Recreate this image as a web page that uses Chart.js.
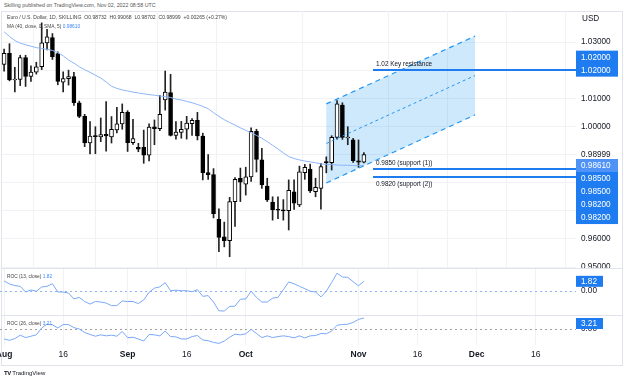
<!DOCTYPE html>
<html><head><meta charset="utf-8">
<script src="https://cdn.jsdelivr.net/npm/chart.js@4.4.1/dist/chart.umd.min.js"></script>
<style>
html,body{margin:0;padding:0;background:#fff;}
body{width:624px;height:381px;position:relative;overflow:hidden;font-family:"Liberation Sans",Arial,sans-serif;}
canvas{position:absolute;left:0;}
.t{position:absolute;white-space:nowrap;line-height:1;}
.sep{position:absolute;left:1px;width:621px;height:1px;background:#e0e3eb;}
</style></head><body>
<div class="t" style="left:4px;top:2.5px;font-size:5.3px;color:#555">Skilling published on TradingView.com, Nov 02, 2022 08:58 UTC</div>
<div style="position:absolute;left:1px;top:11px;width:622px;height:355px;box-sizing:border-box;border:1px solid #e0e3eb"></div>
<canvas id="cMain" width="624" height="257" style="top:11px"></canvas>
<canvas id="cRoc13" width="624" height="47" style="top:268px"></canvas>
<canvas id="cRoc26" width="624" height="51" style="top:315px"></canvas>
<div class="sep" style="top:268px"></div>
<div class="sep" style="top:315px"></div>
<div class="t" style="left:7px;top:15px;font-size:5.1px;color:#444">Euro / U.S. Dollar, 1D, SKILLING&nbsp; O0.98732&nbsp; H0.99068&nbsp; L0.98702&nbsp; C0.98999&nbsp; +0.00265 (+0.27%)</div>
<div class="t" style="left:7px;top:25px;font-size:4.8px;color:#444">MA (40, close, 0, SMA, 5) <span style="color:#3d86f5">0.98610</span></div>
<div class="t" style="left:7px;top:275px;font-size:4.8px;color:#444">ROC (13, close) <span style="color:#3d86f5">1.82</span></div>
<div class="t" style="left:7px;top:322px;font-size:4.8px;color:#444">ROC (26, close) <span style="color:#3d86f5">3.21</span></div>
<div class="t" style="left:4px;top:370px;font-size:6px;color:#131722"><b style="letter-spacing:-0.5px">TV</b> TradingView</div>
<script>
// ---- data (trading-day index 0 = Aug 1 2022) ----
const open  = [1.0220,1.0260,1.0165,1.0167,1.0245,1.0178,1.0193,1.0212,1.0297,1.0316,
               1.0259,1.0157,1.0170,1.0177,1.0084,1.0036,0.9941,0.9966,0.9963,0.9972,
               0.9963,0.9988,1.0009,1.0050,0.9942,0.9926,0.9926,0.9898,0.9999,0.9992,
               1.0094,1.0120,0.9968,0.9979,0.9990,1.0010,1.0022,0.9966,0.9836,0.9829,
               0.9670,0.9608,0.9594,0.9733,0.9816,0.9795,0.9821,0.9983,0.9881,0.9788,
               0.9731,0.9704,0.9702,0.9701,0.9768,0.9721,0.9836,0.9848,0.9768,0.9780,
               0.9875,0.9871,0.9961,1.0076,0.9959,0.9952,0.9878,0.98732];
const high  = [1.0275,1.0294,1.0210,1.0253,1.0253,1.0215,1.0228,1.0368,1.0345,1.0330,
               1.0265,1.0194,1.0200,1.0192,1.0090,1.0043,1.0017,0.9999,1.0030,1.0088,
               1.0035,1.0068,1.0080,1.0056,1.0025,0.9940,0.9987,1.0009,1.0023,1.0110,
               1.0197,1.0185,1.0017,1.0018,1.0036,1.0028,1.0050,0.9976,0.9900,0.9850,
               0.9707,0.9660,0.9748,0.9818,0.9852,0.9855,0.9995,0.9990,0.9922,0.9816,
               0.9750,0.9750,0.9740,0.9810,0.9810,0.9859,0.9865,0.9866,0.9816,0.9869,
               0.9892,0.9967,1.0092,1.0084,0.9999,0.9958,0.9952,0.99068];
const low   = [1.0196,1.0162,1.0123,1.0145,1.0142,1.0160,1.0186,1.0202,1.0272,1.0238,
               1.0148,1.0123,1.0147,1.0075,1.0031,0.9928,0.9902,0.9903,0.9946,0.9912,
               0.9941,0.9977,0.9990,0.9911,0.9936,0.9910,0.9869,0.9877,0.9935,0.9985,
               1.0058,0.9966,0.9955,0.9958,0.9955,0.9968,0.9952,0.9810,0.9812,0.9675,
               0.9555,0.9572,0.9537,0.9645,0.9733,0.9756,0.9805,0.9838,0.9780,0.9733,
               0.9667,0.9672,0.9667,0.9632,0.9705,0.9715,0.9812,0.9765,0.9750,0.9706,
               0.9835,0.9845,0.9955,0.9954,0.9935,0.9872,0.9855,0.98702];
const close = [1.0260,1.0165,1.0167,1.0245,1.0178,1.0193,1.0212,1.0297,1.0318,1.0248,
               1.0160,1.0170,1.0177,1.0084,1.0036,0.9941,0.9966,0.9964,0.9971,0.9966,
               0.9990,1.0009,1.0050,0.9942,0.9957,0.9919,0.9898,0.9998,0.9992,1.0043,
               1.0122,0.9968,0.9980,0.9990,1.0012,1.0022,0.9966,0.9836,0.9829,0.9690,
               0.9606,0.9594,0.9733,0.9812,0.9802,0.9821,0.9983,0.9883,0.9792,0.9739,
               0.9703,0.9702,0.9700,0.9773,0.9727,0.9839,0.9855,0.9771,0.9784,0.9857,
               0.9871,0.9961,1.0080,0.9961,0.9962,0.9878,0.9873,0.98999];
const ma40  = [1.0336,1.0320,1.0305,1.0296,1.0290,1.0285,1.0280,1.0277,1.0274,1.0270,
               1.0262,1.0251,1.0236,1.0225,1.0212,1.0202,1.0192,1.0182,1.0172,1.0158,
               1.0143,1.0135,1.0130,1.0126,1.0122,1.0119,1.0116,1.0113,1.0111,1.0108,
               1.0106,1.0103,1.0097,1.0094,1.0089,1.0084,1.0078,1.0071,1.0063,1.0049,
               1.0036,1.0024,1.0014,1.0005,0.9995,0.9986,0.9978,0.9968,0.9958,0.9946,
               0.9933,0.9920,0.9906,0.9893,0.9886,0.9881,0.9877,0.9874,0.9871,0.9867,
               0.9865,0.9864,0.9863,0.9862,0.9862,0.9861,0.9861,0.9861];
const roc13 = [1.9,1.3,1.0,0.85,-0.25,0.14,-0.1,0.72,0.85,1.36,
               -0.25,-0.25,-0.45,-1.6,-1.3,-2.1,-2.6,-2.1,-2.2,-2.4,
               -2.9,-2.9,-2.0,-2.1,-2.1,-2.5,-1.8,-0.3,0.5,0.75,
               1.55,0.0,0.1,0.0,0.0,-0.2,0.2,-1.1,-0.95,-2.2,
               -3.9,-3.95,-3.05,-3.0,-1.65,-1.6,-0.1,-1.3,-2.2,-2.2,
               -1.45,-1.3,0.2,1.7,1.35,0.85,0.4,-0.1,-0.25,-1.2,
               -0.1,1.6,3.4,2.65,2.6,1.75,0.95,1.82];
const roc26 = [-2.9,-3.3,-2.8,-1.8,-2.5,-2.1,-1.7,0.3,1.4,1.2,
               0.3,1.3,1.3,0.4,0.0,-1.0,-1.6,-2.1,-1.7,-2.0,
               -1.8,-2.1,-0.7,-2.5,-2.4,-2.9,-3.5,-1.6,-1.7,-2.0,
               -0.6,-2.2,-2.3,-2.9,-2.9,-2.2,-1.9,-3.2,-3.4,-3.9,
               -4.2,-3.5,-2.4,-1.5,-1.7,-1.4,-0.1,-1.3,-2.5,-2.0,
               -2.5,-2.2,-2.0,-2.2,-2.6,-2.0,-2.6,-2.0,-1.9,-1.3,
               -1.4,-0.6,1.1,1.3,1.4,1.9,2.8,3.21];
const xTickIdx    = [0, 11, 23, 34, 45, 66, 77, 88, 99];
const xTickLabels = ['Aug','16','Sep','16','Oct','Nov','16','Dec','16'];
const priceTicks  = [0.95,0.96,0.97,0.98,0.99,1.00,1.01,1.02,1.03];
const hiddenPriceTicks = [0.97,0.98,0.99,1.02];
// drawings (index, price)
const channel = {start:60, end:87.7, upper:[1.0080,1.0321], lower:[0.9799,1.0041]};
const levels = [
  {price:1.02,  start:68.7, text:'1.02 Key resistance', above:true},
  {price:0.985, start:68.7, text:'0.9850 (support (1))', above:true},
  {price:0.982, start:68.7, text:'0.9820 (support (2))', above:false}
];
const topLabels = [1.02, 1.02];
const bottomLabels = [0.9861, 0.985, 0.985, 0.982, 0.982];

// ---- layout ranges ----
const X_MIN = -0.7635, X_MAX = 106.5;
const BLUE = '#1f7cf0';
const FONT = '"Liberation Sans", Arial, sans-serif';
const idx = close.map((_, i) => i);

function xScale(showLabels) {
  return {
    type: 'linear', min: X_MIN, max: X_MAX, offset: false,
    afterBuildTicks: s => { s.ticks = xTickIdx.map(v => ({value: v})); },
    grid: {color: '#f0f2f5', drawTicks: false, lineWidth: 1},
    border: {display: false},
    ticks: {
      display: showLabels, autoSkip: false, maxRotation: 0, padding: 5,
      color: '#131722',
      font: ctx => ({family: FONT, size: 8.5, weight: /^\d/.test(xTickLabels[ctx.index] || '') ? 'normal' : 'bold'}),
      callback: (v, i) => xTickLabels[i]
    },
    afterFit: s => { s.paddingLeft = 0; s.paddingRight = 0; s.height = showLabels ? 21 : 0; }
  };
}
function yRight(min, max, ticks, cb, gridOn) {
  return {
    position: 'right', min, max,
    afterBuildTicks: s => { s.ticks = ticks.map(v => ({value: v})); },
    grid: {display: gridOn, color: '#f0f2f5', drawTicks: false},
    border: {display: false},
    ticks: {padding: 5, color: '#131722', font: {family: FONT, size: 8.2}, callback: cb},
    afterFit: s => { s.width = 48; s.paddingTop = 0; s.paddingBottom = 0; }
  };
}

function drawBox(ctx, x0, x1, top, h, color) {
  ctx.fillStyle = color; ctx.fillRect(x0, top, x1 - x0, h);
}

const mainOverlay = {
  id: 'mainOverlay',
  beforeDatasetsDraw(c) {
    const {ctx, chartArea: a, scales: {x, y}} = c;
    ctx.save();
    ctx.beginPath(); ctx.rect(a.left, a.top, a.right - a.left, a.bottom - a.top); ctx.clip();
    const X0 = x.getPixelForValue(channel.start), X1 = x.getPixelForValue(channel.end);
    ctx.fillStyle = 'rgba(33,150,243,0.22)';
    ctx.beginPath();
    ctx.moveTo(X0, y.getPixelForValue(channel.upper[0]));
    ctx.lineTo(X1, y.getPixelForValue(channel.upper[1]));
    ctx.lineTo(X1, y.getPixelForValue(channel.lower[1]));
    ctx.lineTo(X0, y.getPixelForValue(channel.lower[0]));
    ctx.closePath(); ctx.fill();
    ctx.restore();
  },
  afterDatasetsDraw(c) {
    const {ctx, chartArea: a, scales: {x, y}} = c;
    ctx.save();
    ctx.beginPath(); ctx.rect(a.left, a.top, a.right - a.left, a.bottom - a.top); ctx.clip();
    const X0 = x.getPixelForValue(channel.start), X1 = x.getPixelForValue(channel.end);
    ctx.strokeStyle = '#2196f3'; ctx.lineWidth = 1.2;
    ctx.setLineDash([5, 4]);
    [channel.upper, channel.lower].forEach(p => {
      ctx.beginPath(); ctx.moveTo(X0, y.getPixelForValue(p[0])); ctx.lineTo(X1, y.getPixelForValue(p[1])); ctx.stroke();
    });
    ctx.lineWidth = 1; ctx.setLineDash([3, 3]);
    ctx.beginPath();
    ctx.moveTo(X0, y.getPixelForValue((channel.upper[0] + channel.lower[0]) / 2));
    ctx.lineTo(X1, y.getPixelForValue((channel.upper[1] + channel.lower[1]) / 2));
    ctx.stroke();
    ctx.setLineDash([]);
    ctx.font = '6.4px ' + FONT; ctx.textBaseline = 'middle'; ctx.textAlign = 'left';
    levels.forEach(l => {
      const ly = Math.round(y.getPixelForValue(l.price));
      const lx = x.getPixelForValue(l.start);
      ctx.strokeStyle = BLUE; ctx.lineWidth = 2;
      ctx.beginPath(); ctx.moveTo(lx, ly); ctx.lineTo(a.right, ly); ctx.stroke();
      ctx.fillStyle = '#131722';
      ctx.fillText(l.text, lx + 3, l.above ? ly - 5.5 : ly + 7);
    });
    ctx.restore();
  },
  afterDraw(c) {
    const {ctx, chartArea: a, scales: {y}} = c;
    ctx.save();
    ctx.font = '8.2px ' + FONT; ctx.textBaseline = 'middle'; ctx.textAlign = 'left';
    ctx.fillStyle = '#131722';
    ctx.fillText('USD', 582, 8);
    ctx.fillText(close[close.length - 1].toFixed(5), 581, y.getPixelForValue(close[close.length - 1]));
    const x0 = a.right, x1 = 618, H = 13;
    const yt = y.getPixelForValue(topLabels[0]);
    const tTop = yt - H * (topLabels.length - 1) - H / 2;
    drawBox(ctx, x0, x1, tTop, H * topLabels.length, BLUE);
    ctx.fillStyle = '#fff';
    topLabels.forEach((v, k) => ctx.fillText(v.toFixed(5), 581, tTop + H * k + H / 2 + 0.5));
    const yb = y.getPixelForValue(bottomLabels[0]);
    const bTop = yb - H / 2;
    drawBox(ctx, x0, x1, bTop, H * bottomLabels.length, BLUE);
    drawBox(ctx, x0, x1, bTop, H, '#4f93f6');
    ctx.fillStyle = '#fff';
    bottomLabels.forEach((v, k) => ctx.fillText(v.toFixed(5), 581, bTop + H * k + H / 2 + 0.5));
    ctx.restore();
  }
};

new Chart(document.getElementById('cMain'), {
  type: 'bar',
  data: {
    datasets: [
      {type: 'line', data: idx.map(i => ({x: i, y: ma40[i]})), borderColor: '#8db5f7', borderWidth: 1,
       pointRadius: 0, tension: 0, order: 0},
      {type: 'bar', data: idx.map(i => ({x: i, y: [open[i], close[i]]})),
       backgroundColor: idx.map(i => close[i] >= open[i] ? '#ffffff' : '#000000'),
       borderColor: '#000000', borderWidth: 1, borderSkipped: false, barThickness: 4,
       minBarLength: 1, grouped: false, order: 1},
      {type: 'bar', data: idx.map(i => ({x: i, y: [low[i], high[i]]})),
       backgroundColor: '#222222', borderWidth: 0, barThickness: 1, grouped: false, order: 2}
    ]
  },
  options: {
    responsive: false, animation: false, devicePixelRatio: 1,
    layout: {padding: 0, autoPadding: false},
    plugins: {legend: {display: false}, tooltip: {enabled: false}},
    scales: {
      x: xScale(false),
      y: yRight(0.94969, 1.04102, priceTicks,
         v => hiddenPriceTicks.some(h => Math.abs(h - v) < 1e-6) ? '' : v.toFixed(5), true)
    }
  },
  plugins: [mainOverlay]
});

function rocOverlay(vals, zeroColor) {
  return {
    id: 'rocOverlay',
    beforeDatasetsDraw(c) {
      const {ctx, chartArea: a, scales: {y}} = c;
      const zy = Math.round(y.getPixelForValue(0)) + 0.5;
      ctx.save(); ctx.strokeStyle = zeroColor; ctx.lineWidth = 1; ctx.setLineDash([2, 3]);
      ctx.beginPath(); ctx.moveTo(a.left, zy); ctx.lineTo(a.right, zy); ctx.stroke(); ctx.restore();
    },
    afterDraw(c) {
      const {ctx, chartArea: a, scales: {y}} = c;
      const v = vals[vals.length - 1];
      let top = y.getPixelForValue(v) - 5.5;
      if (top < a.top + 3) top = a.top + 3;
      ctx.save();
      drawBox(ctx, a.right, 603, top, 11, BLUE);
      ctx.fillStyle = '#fff'; ctx.font = '8.2px ' + FONT; ctx.textBaseline = 'middle'; ctx.textAlign = 'left';
      ctx.fillText(v.toFixed(2), 581, top + 6);
      ctx.restore();
    }
  };
}

function rocChart(id, vals, min, max, zeroColor, showX) {
  new Chart(document.getElementById(id), {
    type: 'line',
    data: {datasets: [{data: idx.map(i => ({x: i, y: vals[i]})), borderColor: '#7aa8f7', borderWidth: 1,
                       pointRadius: 0, tension: 0}]},
    options: {
      responsive: false, animation: false, devicePixelRatio: 1,
      layout: {padding: 0, autoPadding: false},
      plugins: {legend: {display: false}, tooltip: {enabled: false}},
      scales: {
        x: xScale(showX),
        y: yRight(min, max, [0], () => '0.00', false)
      }
    },
    plugins: [rocOverlay(vals, zeroColor)]
  });
}
rocChart('cRoc13', roc13, -4.72, 4.41, '#8fb5f7', false);
rocChart('cRoc26', roc26, -4.66, 4.08, '#a0a0a0', true);
</script>
</body></html>
